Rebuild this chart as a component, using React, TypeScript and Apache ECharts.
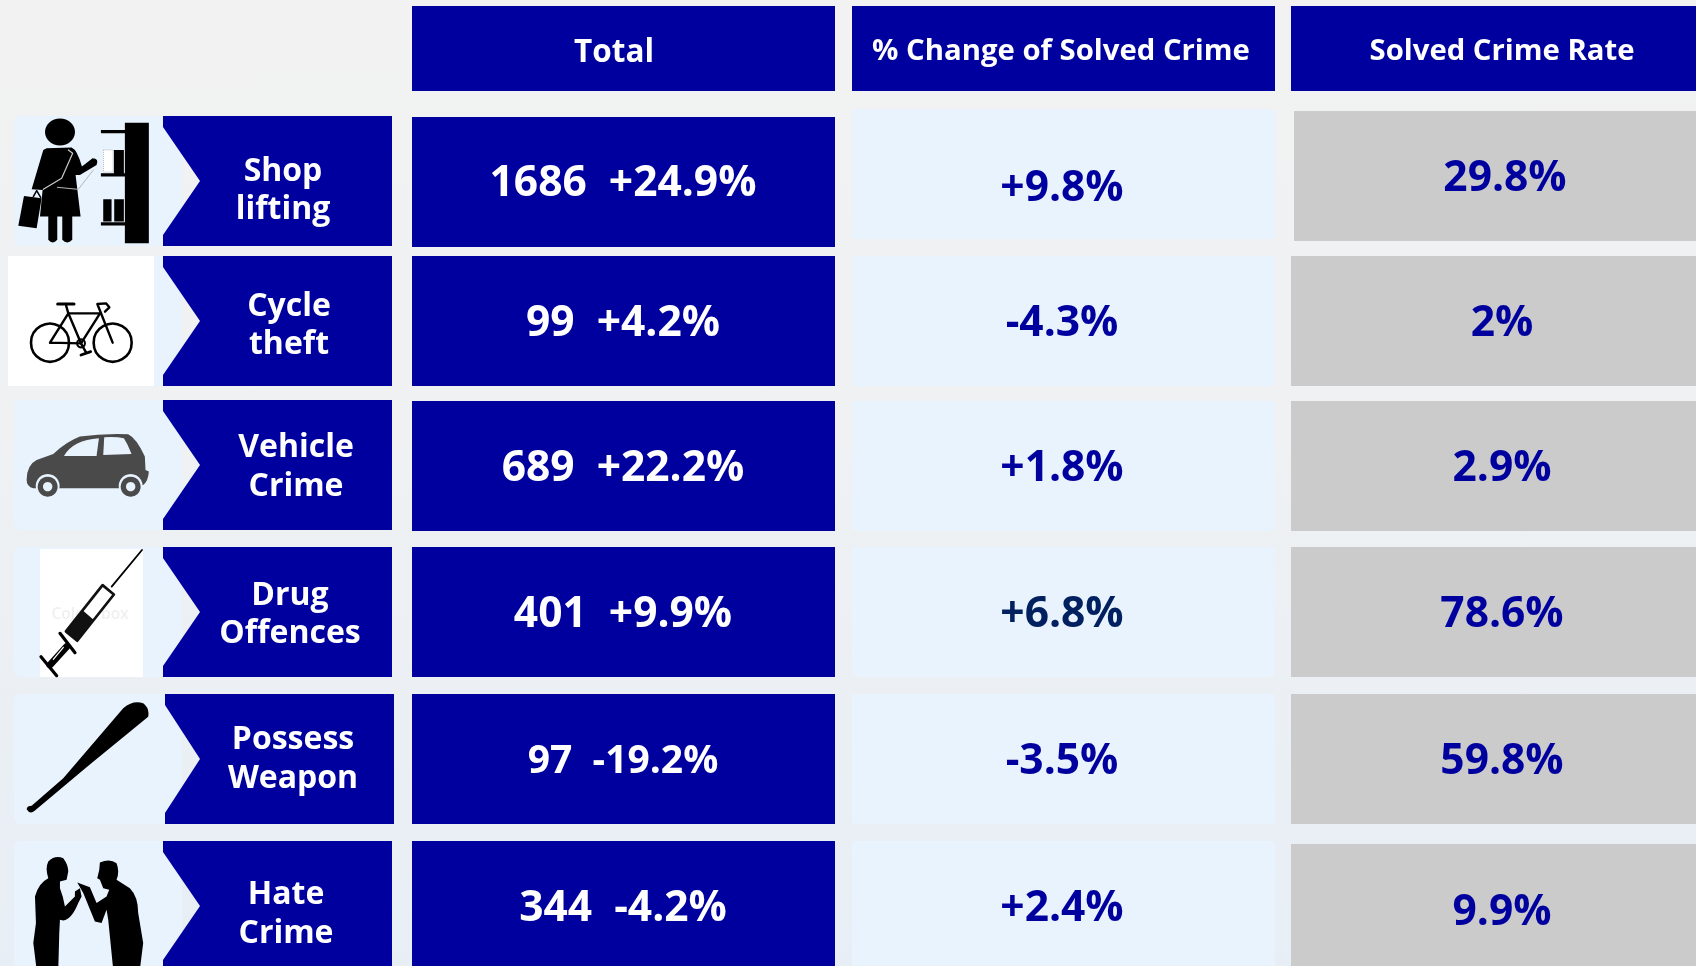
import React, { useEffect, useRef } from "react";
import * as echarts from "echarts";

const BLUE = "#00009f";
const LIGHT = "#e8f3fe";
const GRAY = "#cbcbcb";
const FONT = "'Open Sans', sans-serif";

const headers = ["Total", "% Change of Solved Crime", "Solved Crime Rate"];
const labels = [["Shop", "lifting"], ["Cycle", "theft"], ["Vehicle", "Crime"], ["Drug", "Offences"], ["Possess", "Weapon"], ["Hate", "Crime"]];
const totals = ["1686  +24.9%", "99  +4.2%", "689  +22.2%", "401  +9.9%", "97  -19.2%", "344  -4.2%"];
const changes = ["+9.8%", "-4.3%", "+1.8%", "+6.8%", "-3.5%", "+2.4%"];
const rates = ["29.8%", "2%", "2.9%", "78.6%", "59.8%", "9.9%"];

const rowTops = [116, 256, 400, 547, 694, 841];
const totalTops = [117, 256, 401, 547, 694, 841];
const lightTops = [109, 256, 401, 547, 694, 841];
const grayTops = [111, 256, 401, 547, 694, 844];
const chevronX = [163, 163, 163, 163, 165, 163];
const labelX = [283, 289, 296, 290, 293, 286];
const labelY = [[168.5, 206.5], [303, 341], [444.5, 483], [592, 630.5], [736, 775], [891.5, 930.5]];
const totalY = [179, 319, 464, 610, 757.5, 904];
const changeY = [184, 319, 464, 610, 757, 904];
const rateY = [174, 319, 464, 610, 757, 908];
const changeColors = [BLUE, BLUE, BLUE, "#002060", BLUE, BLUE];

const ICONS: Record<string, string> = {
  womanBody: "M140 145 L215 143 Q232 150 246 200 L278 175 Q298 175 290 195 L240 225 L227 225 L242 350 L217 350 L217 420 Q202 436 187 420 L187 350 L172 350 L172 420 Q158 436 145 420 L145 350 L120 350 L128 270 L95 268 L130 150 Z",
  bag: "M72 288 L125 295 L110 385 L55 378 Z",
  shelf: "M375 68 L447 68 L447 430 L375 430 Z M303 90 L375 90 L375 100 L303 100 Z M303 220 L375 220 L375 230 L303 230 Z M303 367 L375 367 L375 377 L303 377 Z M342 150 L372 150 L372 220 L342 220 Z M310 298 L335 298 L335 365 L310 365 Z M343 298 L372 298 L372 365 L343 365 Z",
  car: "M80 270 Q80 225 110 210 L160 192 Q200 155 240 140 Q310 130 385 133 Q410 145 435 200 L437 240 L447 245 Q445 275 430 285 L360 295 L175 295 L100 295 Q80 290 80 270 Z",
  carWin1: "M192 198 Q220 150 297 145 L290 198 Z",
  carWin2: "M310 195 L313 142 Q350 140 372 145 Q385 165 395 192 Z",
  syrBarrel: "M342 614 L308 586 L198 725 L232 753 Z",
  syrFill: "M281 690 L247 661 L198 725 L232 753 Z",
  bat: "M80 388 Q82 378 95 378 L190 295 L370 85 Q400 60 430 70 Q450 85 445 110 L250 270 L105 392 Q90 405 80 388 Z",
  manLeft: "M145 545 Q165 525 190 535 Q205 555 205 575 L200 600 L180 605 L180 625 Q190 650 195 680 L225 650 L225 635 L240 625 L245 650 L235 670 Q215 720 190 722 L180 720 L178 760 L175 870 L110 870 L100 790 L108 730 L105 650 Q115 610 145 595 Q135 565 145 545 Z",
  manRight: "M300 548 Q330 535 350 550 Q360 575 350 600 L390 625 Q415 650 415 700 L430 790 L420 870 L340 870 L325 720 L320 690 L305 730 L285 725 L250 640 L232 608 L270 622 L290 670 L320 650 L328 630 L310 625 L300 600 L292 595 Q300 570 300 548 Z",
};
Object.keys(ICONS).forEach((k) => echarts.graphic.registerShape(k, echarts.graphic.extendPath(ICONS[k] as any, {})));

function rect(x: number, y: number, w: number, h: number, fill: string, r = 0) {
  return { type: "rect", shape: { x, y, width: w, height: h, r }, style: { fill }, silent: true };
}
function txt(s: string, x: number, y: number, size: number, fill: string, weight: any = 700, lineHeight?: number) {
  return { type: "text", x, y, style: { text: s, fill, font: `${weight} ${size}px ${FONT}`, textAlign: "center", textVerticalAlign: "middle", lineHeight }, silent: true };
}
function shape(name: string, ox: number, oy: number, fill: string) {
  return { type: name, x: ox, y: oy, scaleX: 1 / 3, scaleY: 1 / 3, style: { fill }, silent: true };
}
function seg(pts: number[][], ox: number, oy: number, w: number, stroke = "#000") {
  return { type: "polyline", shape: { points: pts.map((p) => [ox + p[0] / 3, oy + p[1] / 3]) }, style: { stroke, lineWidth: w, fill: "none", lineCap: "round", lineJoin: "round" }, silent: true };
}
function circ(cx: number, cy: number, r: number, ox: number, oy: number, style: any) {
  return { type: "circle", shape: { cx: ox + cx / 3, cy: oy + cy / 3, r: r / 3 }, style, silent: true };
}

function icons(): any[] {
  const out: any[] = [];
  const ox = 0;
  let oy = 100;
  out.push(shape("womanBody", ox, oy, "#000"), shape("bag", ox, oy, "#000"), shape("shelf", ox, oy, "#000"));
  out.push({ type: "ellipse", shape: { cx: ox + 60, cy: oy + 32, rx: 15, ry: 13.5 }, style: { fill: "#000" }, silent: true });
  out.push(seg([[205, 150], [218, 160], [185, 235], [130, 268]], ox, oy, 1.2, "#c9c9c9"));
  out.push(seg([[172, 262], [235, 268], [280, 210]], ox, oy, 1, "#b5b5b5"));
  out.push(seg([[100, 290], [110, 272], [122, 292]], ox, oy, 1.5, "#000"));
  out.push({ type: "rect", shape: { x: 103.5, y: 150, width: 9.5, height: 22 }, style: { fill: "#fff", stroke: "#999", lineWidth: 0.6, lineDash: [1, 1] }, silent: true });
  // bicycle
  out.push(circ(150, 728, 57, ox, oy, { fill: "none", stroke: "#000", lineWidth: 2.6 }));
  out.push(circ(338, 728, 57, ox, oy, { fill: "none", stroke: "#000", lineWidth: 2.6 }));
  out.push(circ(243, 730, 12, ox, oy, { fill: "none", stroke: "#000", lineWidth: 2 }));
  out.push(seg([[150, 728], [243, 730], [205, 640], [150, 728]], ox, oy, 2.4));
  out.push(seg([[205, 640], [300, 640], [243, 730]], ox, oy, 2.4));
  out.push(seg([[205, 640], [197, 612]], ox, oy, 2.4));
  out.push(seg([[173, 612], [222, 612]], ox, oy, 3));
  out.push(seg([[338, 728], [292, 612], [318, 610], [328, 622], [315, 635]], ox, oy, 2.4));
  out.push(seg([[243, 730], [258, 757]], ox, oy, 2.4));
  out.push(seg([[243, 765], [272, 755]], ox, oy, 2.8));
  // car
  oy = 390;
  out.push(shape("car", ox, oy, "#4a4a4a"), shape("carWin1", ox, oy, LIGHT), shape("carWin2", ox, oy, LIGHT));
  [143, 392].forEach((cx) => {
    out.push(circ(cx, 288, 36, ox, oy, { fill: LIGHT }));
    out.push(circ(cx, 290, 30, ox, oy, { fill: "#4a4a4a" }));
    out.push(circ(cx, 290, 14, ox, oy, { fill: LIGHT }));
  });
  // syringe
  out.push(rect(40, 549, 103, 128, "#fff"));
  out.push(txt("Colourbox", 90, 613, 15.5, "#f0f0f0", 600));
  out.push(seg([[426, 480], [335, 590]], ox, oy, 1.8));
  out.push({ type: "syrBarrel", x: ox, y: oy, scaleX: 1 / 3, scaleY: 1 / 3, style: { fill: "#fff", stroke: "#111", lineWidth: 8, lineJoin: "round" }, silent: true });
  out.push(shape("syrFill", ox, oy, "#111"));
  out.push(seg([[180, 730], [225, 788]], ox, oy, 3.2));
  out.push(seg([[200, 770], [150, 825]], ox, oy, 7));
  out.push(seg([[190, 772], [160, 808]], ox, oy, 1.2, "#fff"));
  out.push(seg([[123, 800], [170, 857]], ox, oy, 3.2));
  // bat and the two men
  oy = 680;
  out.push(shape("bat", ox, oy, "#000"), shape("manLeft", ox, oy, "#000"), shape("manRight", ox, oy, "#000"));
  return out;
}

export default function App() {
  const ref = useRef<HTMLDivElement>(null);
  useEffect(() => {
    document.body.style.margin = "0";
    const chart = echarts.init(ref.current!, null, { renderer: "svg" });
    const g: any[] = [];
    g.push({
      type: "rect", shape: { x: 0, y: 0, width: 1696, height: 966 }, silent: true,
      style: { fill: new echarts.graphic.LinearGradient(0, 0, 0, 1, [
        { offset: 0, color: "#f2f2f2" }, { offset: 0.45, color: "#eff1f3" }, { offset: 1, color: "#e7eef5" },
      ]) },
    });
    const colX = [412, 852, 1291];
    const colW = [423, 423, 405];
    headers.forEach((h, i) => {
      g.push(rect(colX[i], 6, colW[i], 85, BLUE));
    });
    g.push(txt(headers[0], 614, 49, 31.5, "#fff"));
    g.push(txt(headers[1], 1061, 48.5, 29.3, "#fff"));
    g.push(txt(headers[2], 1502, 48.5, 29.3, "#fff"));

    labels.forEach((lab, i) => {
      const t = rowTops[i];
      const cx = chevronX[i];
      g.push(rect(14, t, 168, 130, LIGHT, 6));
      if (i === 1) g.push(rect(8, t, 146, 130, "#fff"));
      g.push({
        type: "polygon", silent: true, style: { fill: BLUE },
        shape: { points: [[cx, t], [cx + 229, t], [cx + 229, t + 130], [cx, t + 130], [cx, t + 119], [200, t + 65], [cx, t + 11]] },
      });
      const [y0, y1] = labelY[i];
      g.push(txt(lab.join("\n"), labelX[i], (y0 + y1) / 2, 32, "#fff", 700, y1 - y0));

      g.push(rect(412, totalTops[i], 423, 130, BLUE));
      g.push(txt(totals[i], 623, totalY[i], i === 4 ? 39 : 42.5, "#fff"));

      g.push(rect(852, lightTops[i], 423, 130, LIGHT, 3));
      g.push(txt(changes[i], 1062, changeY[i], 42.5, changeColors[i]));

      g.push(rect(i === 0 ? 1294 : 1291, grayTops[i], 405, 130, GRAY));
      g.push(txt(rates[i], i === 0 ? 1505 : 1502, rateY[i], 42.5, BLUE));
    });
    g.push(...icons());

    chart.setOption({ animation: false, graphic: { elements: g } });
    return () => chart.dispose();
  }, []);
  return <div ref={ref} style={{ position: "fixed", left: 0, top: 0, width: 1696, height: 966 }} />;
}
